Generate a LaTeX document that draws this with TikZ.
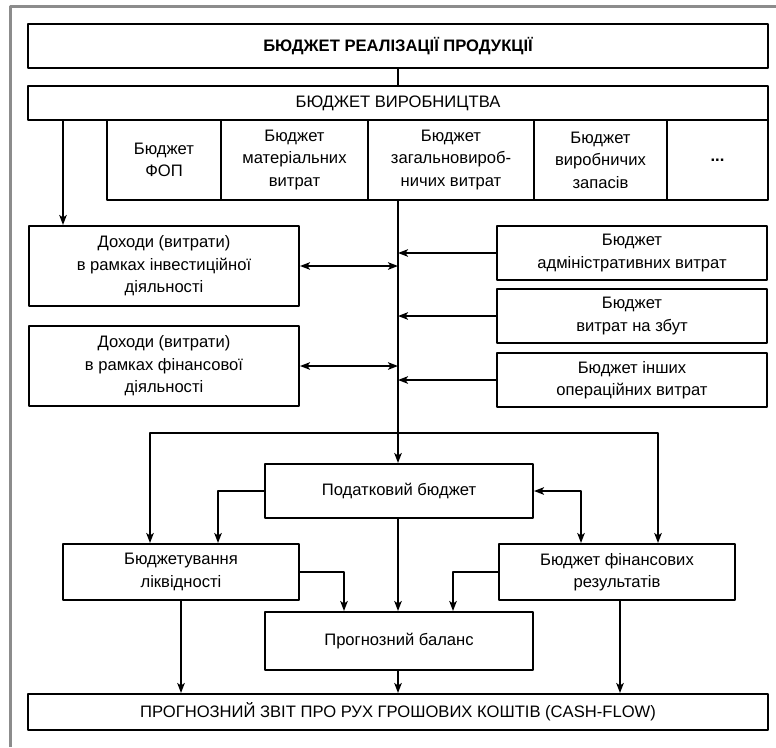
\documentclass[tikz,border=0pt]{standalone}
\usepackage{fontspec}
\setmainfont{Liberation Sans}
\usepackage{xcolor}
\usetikzlibrary{arrows.meta}
\definecolor{framegray}{RGB}{140,140,140}

\begin{document}
\begin{tikzpicture}[x=1pt,y=-1pt,>={Stealth[length=10pt,width=7.5pt,inset=2.5pt]},line join=round,
  box/.style={draw,line width=2pt,inner sep=0pt,align=center,font=\fontsize{16.6}{22.5}\selectfont},
  link/.style={line width=2pt}]
  \useasboundingbox (0,0) rectangle (776,747);
  \draw[framegray,line width=3pt] (10.5,747) -- (10.5,6.5) -- (776,6.5);
  % top part
  \node[box,minimum width=740pt,minimum height=44pt] (real) at (398,46) {\bfseries БЮДЖЕТ РЕАЛІЗАЦІЇ ПРОДУКЦІЇ};
  \node[box,minimum width=740pt,minimum height=34pt] (prod) at (398,103) {БЮДЖЕТ ВИРОБНИЦТВА};
  \node[box,minimum width=114pt,minimum height=80pt] (fop) at (164,160) {Бюджет\\ФОП};
  \node[box,minimum width=147pt,minimum height=80pt] (mat) at (294.5,160) {Бюджет\\матеріальних\\витрат};
  \node[box,minimum width=166pt,minimum height=80pt] (gen) at (451,160) {Бюджет\\загальновироб-\\ничих витрат};
  \node[box,minimum width=133pt,minimum height=80pt] (stock) at (600.5,160) {Бюджет\\виробничих\\запасів};
  \node[box,minimum width=101pt,minimum height=80pt] (etc) at (717.5,160) {\bfseries ...};
  % middle part
  \node[box,minimum width=270pt,minimum height=80pt] (inv) at (164,266) {Доходи (витрати)\\в рамках інвестиційної\\діяльності};
  \node[box,minimum width=270pt,minimum height=80pt] (fin) at (164,366) {Доходи (витрати)\\в рамках фінансової\\діяльності};
  \node[box,minimum width=270pt,minimum height=54pt] (adm) at (632,253) {Бюджет\\адміністративних витрат};
  \node[box,minimum width=270pt,minimum height=54pt] (sale) at (632,316) {Бюджет\\витрат на збут};
  \node[box,minimum width=270pt,minimum height=54pt] (oth) at (632,380) {Бюджет інших\\операційних витрат};
  % lower part
  \node[box,minimum width=268pt,minimum height=54pt] (tax) at (399,491) {Податковий бюджет};
  \node[box,minimum width=236pt,minimum height=56pt] (liq) at (181,572) {Бюджетування\\ліквідності};
  \node[box,minimum width=236pt,minimum height=56pt] (res) at (617,572) {Бюджет фінансових\\результатів};
  \node[box,minimum width=268pt,minimum height=58pt] (bal) at (399,641) {Прогнозний баланс};
  \node[box,minimum width=740pt,minimum height=36pt] (cash) at (398,712) {ПРОГНОЗНИЙ ЗВІТ ПРО РУХ ГРОШОВИХ КОШТІВ (CASH-FLOW)};
  % helper points
  \coordinate (s0) at (real.south |- gen.south);
  \coordinate (xl) at (63,0);
  \coordinate (br) at (398,433);
  \coordinate (bl) at (150,433);
  \coordinate (brr) at (658,433);
  \coordinate (tl) at (218,0);
  \coordinate (tr) at (581,0);
  \coordinate (lb) at (344,0);
  \coordinate (rb) at (453,0);
  \coordinate (rd) at (620,0);
  % connectors
  \draw[link] (real.south) -- (prod.north);
  \draw[link,->] (xl |- prod.south) -- (xl |- inv.north);
  \draw[link,->] (s0) -- (s0 |- tax.north);
  \draw[link,<->] (inv.east) -- (inv.east -| s0);
  \draw[link,<->] (fin.east) -- (fin.east -| s0);
  \draw[link,->] (adm.west) -- (adm.west -| s0);
  \draw[link,->] (sale.west) -- (sale.west -| s0);
  \draw[link,->] (oth.west) -- (oth.west -| s0);
  \draw[link,->] (br) -- (bl) -- (bl |- liq.north);
  \draw[link,->] (br) -- (brr) -- (brr |- res.north);
  \draw[link,->] (tax.west) -- (tax.west -| tl) -- (tl |- liq.north);
  \draw[link,<->] (tax.east) -- (tax.east -| tr) -- (tr |- res.north);
  \draw[link,->] (liq.east) -- (liq.east -| lb) -- (lb |- bal.north);
  \draw[link,->] (res.west) -- (res.west -| rb) -- (rb |- bal.north);
  \draw[link,->] (s0 |- tax.south) -- (s0 |- bal.north);
  \draw[link,->] (s0 |- bal.south) -- (s0 |- cash.north);
  \draw[link,->] (liq.south) -- (liq.south |- cash.north);
  \draw[link,->] (rd |- res.south) -- (rd |- cash.north);
\end{tikzpicture}
\end{document}
